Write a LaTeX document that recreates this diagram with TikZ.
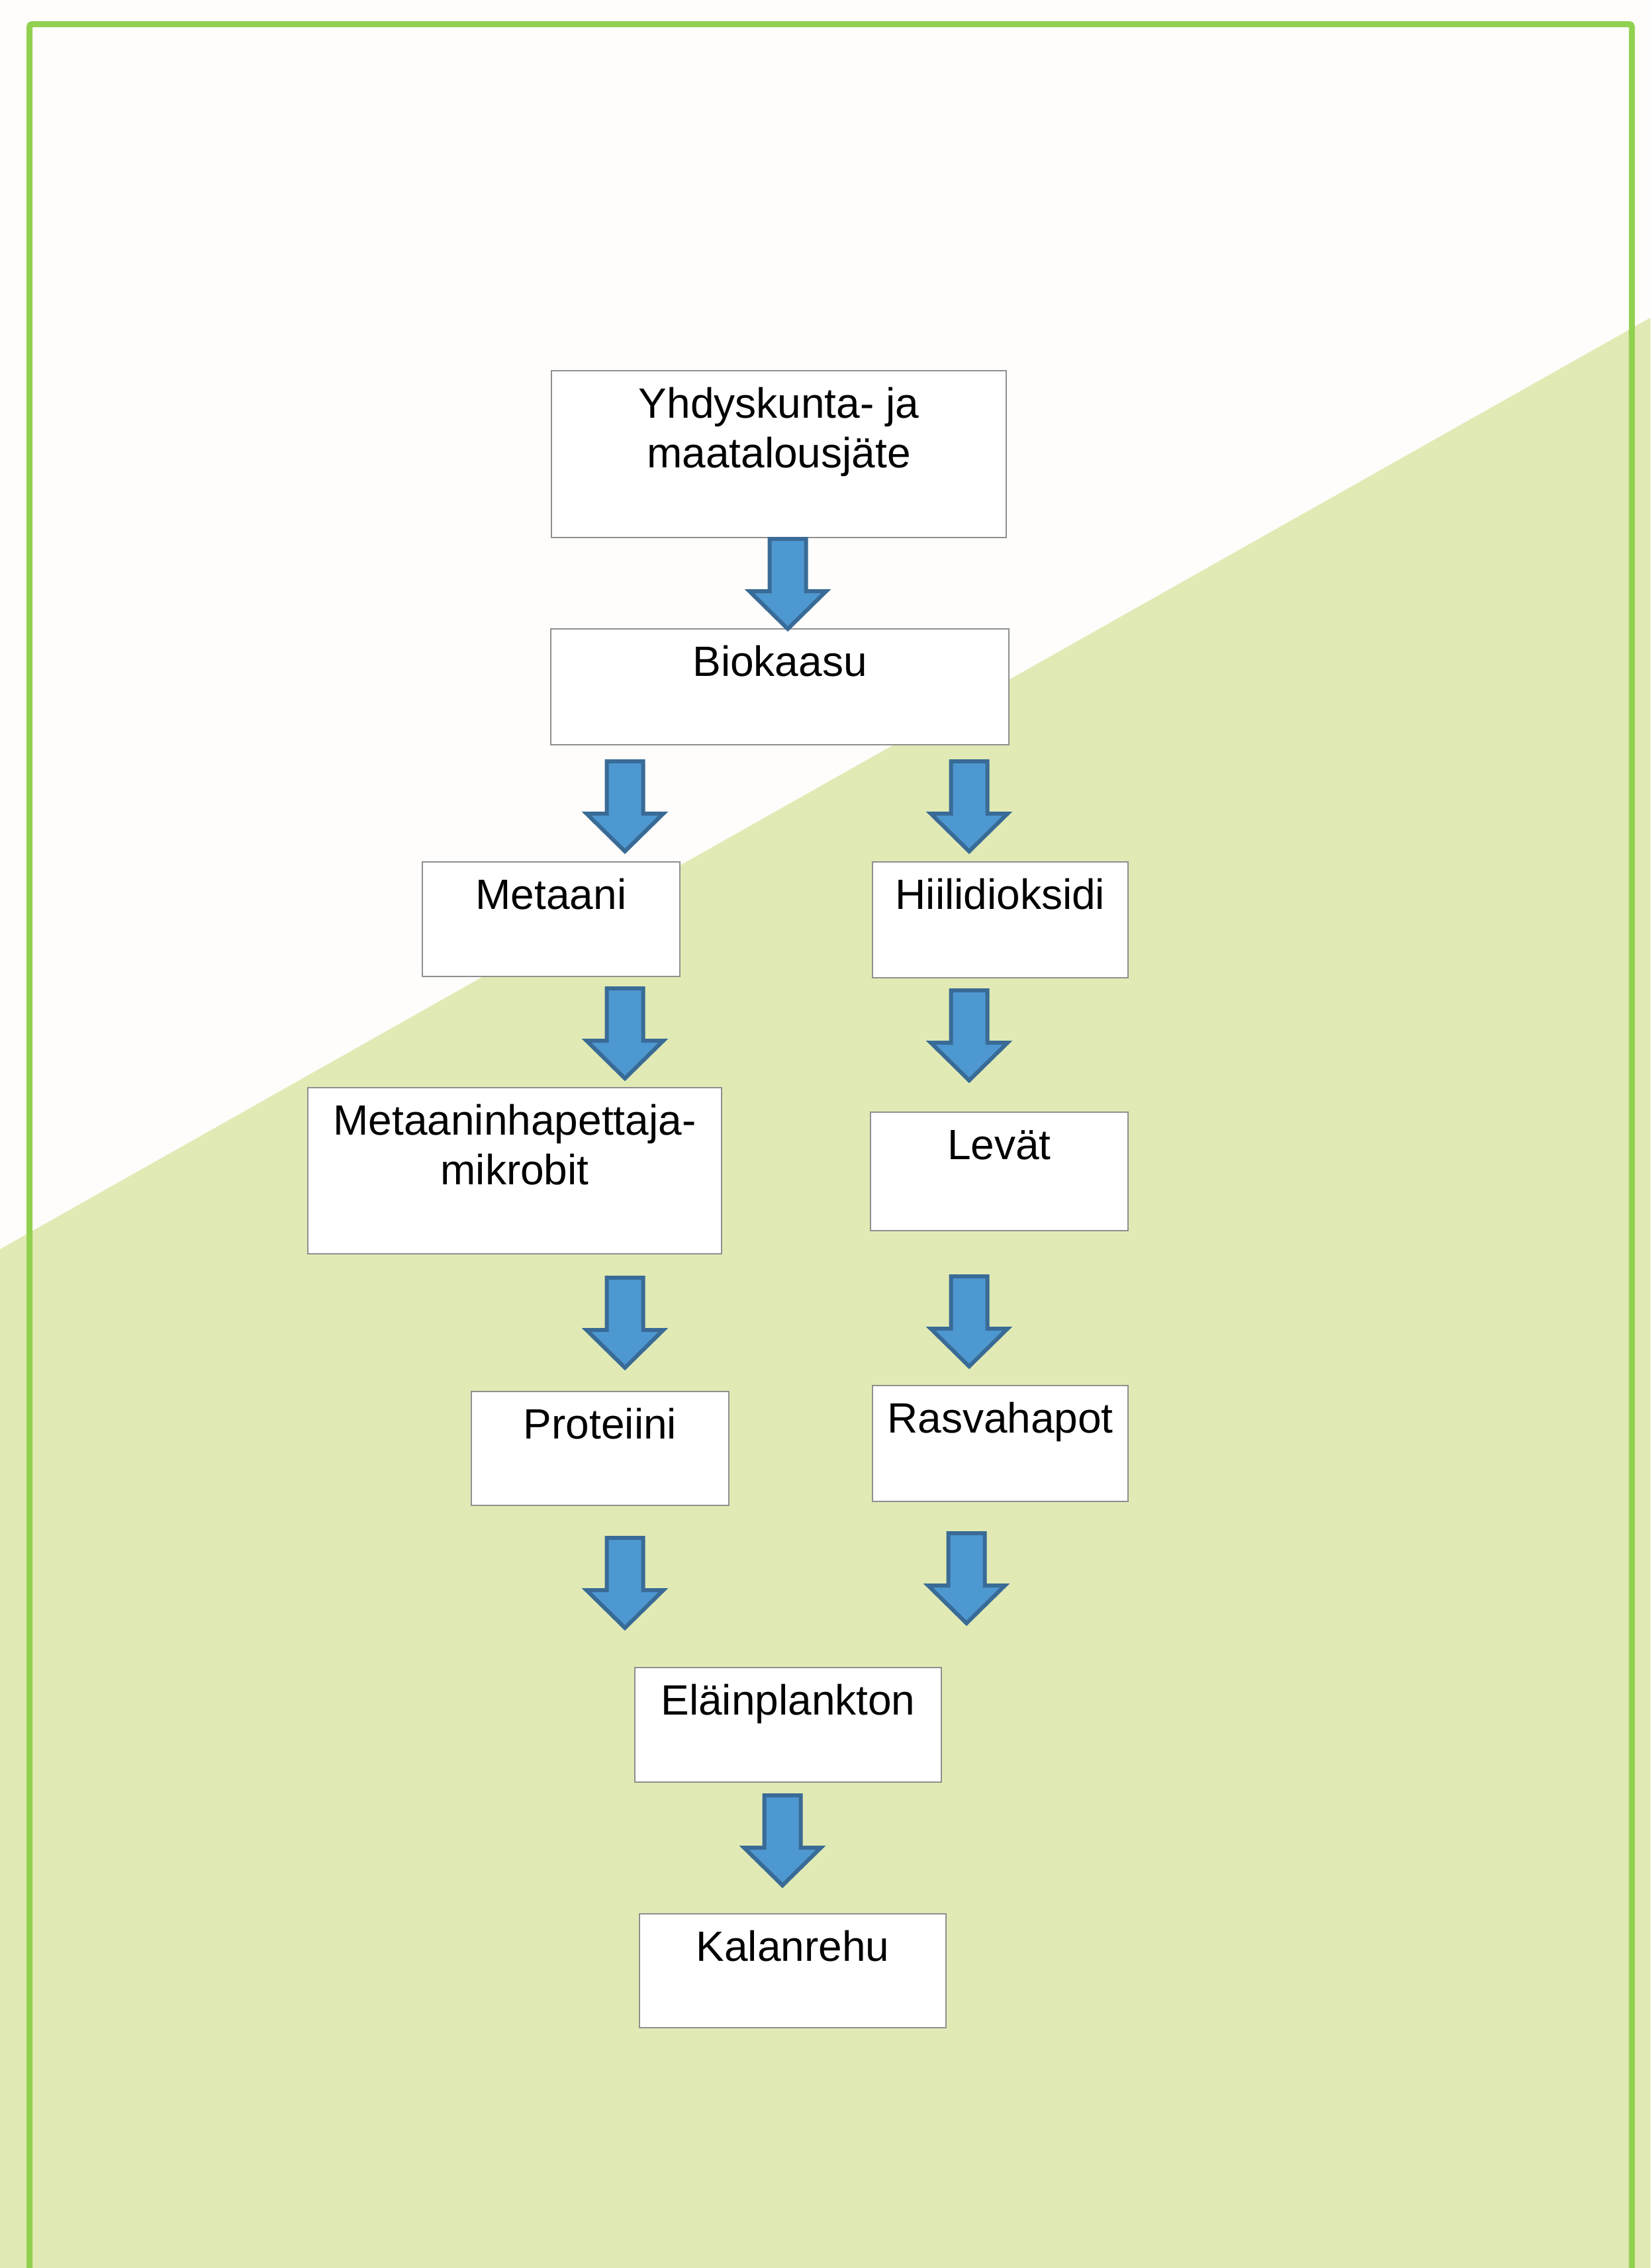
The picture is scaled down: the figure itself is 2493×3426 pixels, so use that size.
\documentclass[tikz,border=0pt]{standalone}
\usepackage{fontspec}
\setmainfont{Liberation Sans}
\definecolor{bgwhite}{HTML}{FEFDFB}
\definecolor{bggreen}{HTML}{E1EAB4}
\definecolor{frame}{HTML}{92D050}
\definecolor{boxgray}{HTML}{8F8F8F}
\definecolor{arrowfill}{HTML}{4E98D2}
\definecolor{arrowedge}{HTML}{396B96}
\tikzset{
  box/.style={draw=boxgray, line width=2.5pt, fill=white, inner sep=0pt, rectangle},
  lbl/.style={anchor=base, align=center, inner sep=0pt, font=\fontsize{64}{75}\selectfont},
  barrow/.pic={
    \draw[fill=arrowfill, draw=arrowedge, line width=6pt, line join=miter]
      (-27.5,3) -- (27.5,3) -- (27.5,82) -- (58,82) -- (0,139) -- (-58,82) -- (-27.5,82) -- cycle;
  }
}
\begin{document}
\begin{tikzpicture}[x=1pt,y=-1pt]
\path[use as bounding box] (0,0) rectangle (2493,3426);
\begin{scope}
\clip (0,0) rectangle (2493,3426);
\fill[bgwhite] (0,0) rectangle (2493,3426);
\fill[bggreen] (0,1887) -- (2493,480) -- (2493,3426) -- (0,3426) -- cycle;
\draw[frame, line width=9pt, rounded corners=4pt] (44.5,3500) -- (44.5,36.5) -- (2465,36.5) -- (2465,3500);
\end{scope}

% boxes
\node[box, minimum width=687pt, minimum height=252pt] (yhd) at (1176.5,686) {};
\node[box, minimum width=692pt, minimum height=175pt] (bio) at (1178,1037.5) {};
\node[box, minimum width=389pt, minimum height=173pt] (met) at (832.5,1388.5) {};
\node[box, minimum width=386pt, minimum height=175pt] (hii) at (1511,1389.5) {};
\node[box, minimum width=625pt, minimum height=251pt] (mik) at (777.5,1768.5) {};
\node[box, minimum width=389pt, minimum height=179pt] (lev) at (1509.5,1769.5) {};
\node[box, minimum width=389pt, minimum height=172pt] (pro) at (906.5,2188) {};
\node[box, minimum width=386pt, minimum height=175pt] (ras) at (1511,2180.5) {};
\node[box, minimum width=463pt, minimum height=173pt] (ela) at (1190.5,2605.5) {};
\node[box, minimum width=463pt, minimum height=172pt] (kal) at (1197.5,2977) {};

% labels
\node[lbl] (yhd-t) at ([yshift=-148pt]yhd.north) {Yhdyskunta- ja\\maatalousjäte};
\node[lbl] (bio-t) at ([yshift=-73pt]bio.north) {Biokaasu};
\node[lbl] (met-t) at ([yshift=-73pt]met.north) {Metaani};
\node[lbl] (hii-t) at ([yshift=-73pt]hii.north) {Hiilidioksidi};
\node[lbl] (mik-t) at ([yshift=-148pt]mik.north) {Metaaninhapettaja-\\mikrobit};
\node[lbl] (lev-t) at ([yshift=-73pt]lev.north) {Levät};
\node[lbl] (pro-t) at ([yshift=-73pt]pro.north) {Proteiini};
\node[lbl] (ras-t) at ([yshift=-73pt]ras.north) {Rasvahapot};
\node[lbl] (ela-t) at ([yshift=-73pt]ela.north) {Eläinplankton};
\node[lbl] (kal-t) at ([yshift=-73pt]kal.north) {Kalanrehu};

% block arrows
\pic (a1) at (1190,811) {barrow};
\pic (a2) at (944,1147) {barrow};
\pic (a3) at (1464,1147) {barrow};
\pic (a4) at (944,1490) {barrow};
\pic (a5) at (1464,1493) {barrow};
\pic (a6) at (944,1927) {barrow};
\pic (a7) at (1464,1925) {barrow};
\pic (a8) at (944,2320) {barrow};
\pic (a9) at (1460,2313) {barrow};
\pic (a10) at (1182,2709) {barrow};
\end{tikzpicture}
\end{document}
